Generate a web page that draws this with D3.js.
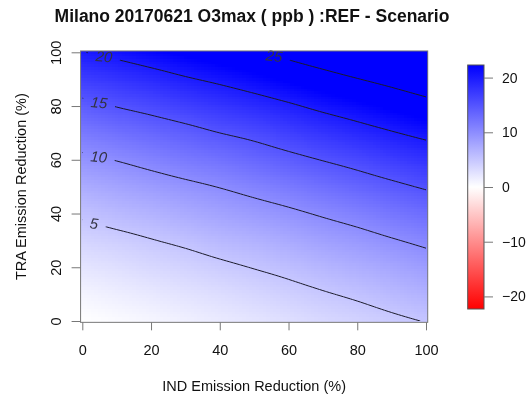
<!DOCTYPE html>
<html>
<head>
<meta charset="utf-8">
<script src="https://cdn.jsdelivr.net/npm/d3@7"></script>
<style>
  html, body { margin: 0; padding: 0; background: #fff; }
  #wrap { position: relative; width: 526px; height: 400px; }
  canvas, svg { position: absolute; left: 0; top: 0; }
  text { font-family: "Liberation Sans", Arial, Helvetica, sans-serif; }
</style>
</head>
<body>
<div id="wrap"></div>
<script>
// ---------------- data ----------------
const indReduction = [0, 10, 20, 30, 40, 50, 60, 70, 80, 90, 100];   // x (%)
const traReduction = [0, 10, 20, 30, 40, 50, 60, 70, 80, 90, 100];   // y (%)
// O3max difference (ppb), one row per TRA reduction level (bottom to top)
const o3Row000 = [0.0, 0.4, 0.8, 1.3, 1.8, 2.3, 2.8, 3.4, 3.9, 4.5, 5.1];
const o3Row010 = [1.0, 1.5, 2.0, 2.5, 3.0, 3.6, 4.2, 4.8, 5.4, 6.1, 6.8];
const o3Row020 = [2.3, 2.8, 3.4, 3.9, 4.5, 5.1, 5.7, 6.4, 7.1, 7.8, 8.6];
const o3Row030 = [3.8, 4.3, 4.9, 5.5, 6.2, 6.8, 7.5, 8.3, 9.0, 9.8, 10.6];
const o3Row040 = [5.4, 6.1, 6.7, 7.4, 8.1, 8.8, 9.5, 10.3, 11.1, 12.0, 12.8];
const o3Row050 = [7.3, 8.0, 8.7, 9.4, 10.1, 10.9, 11.7, 12.6, 13.5, 14.4, 15.3];
const o3Row060 = [9.4, 10.1, 10.9, 11.7, 12.4, 13.3, 14.2, 15.1, 16.0, 17.0, 17.9];
const o3Row070 = [11.7, 12.5, 13.3, 14.1, 15.0, 15.8, 16.8, 17.8, 18.8, 19.8, 20.8];
const o3Row080 = [14.2, 15.1, 15.9, 16.8, 17.7, 18.6, 19.6, 20.7, 21.7, 22.8, 23.9];
const o3Row090 = [17.0, 17.8, 18.7, 19.7, 20.6, 21.6, 22.7, 23.8, 24.9, 26.0, 27.2];
const o3Row100 = [19.9, 20.8, 21.8, 22.8, 23.8, 24.8, 25.9, 27.1, 28.3, 29.5, 30.7];
const o3Rows = [o3Row000, o3Row010, o3Row020, o3Row030, o3Row040, o3Row050,
                o3Row060, o3Row070, o3Row080, o3Row090, o3Row100];

const contourLevels = [5, 10, 15, 20, 25];
const xTicks = [0, 20, 40, 60, 80, 100];
const yTicks = [0, 20, 40, 60, 80, 100];
const colorbarTicks = [-20, -10, 0, 10, 20];
const colorRange = [-22.3, 22.3];

const titleText = "Milano 20170621 O3max ( ppb ) :REF - Scenario";
const xTitle = "IND Emission Reduction (%)";
const yTitle = "TRA Emission Reduction (%)";

// ---------------- layout ----------------
const W = 526, H = 400;
const labelAtX = {5: 3.4, 10: 4.8, 15: 4.9, 20: 6.3, 25: 55.8}; // label placement along x (layout)

const x = d3.scaleLinear().domain([0, 100]).range([82.3, 426]);
const y = d3.scaleLinear().domain([0, 100]).range([321, 52.3]);
const color = d3.scaleLinear()
  .domain([colorRange[0], 0, colorRange[1]])
  .range(["#ff0000", "#ffffff", "#0000ff"])
  .interpolate(d3.interpolateRgb)
  .clamp(true);
const cb = d3.scaleLinear().domain(colorRange).range([309, 65]);

const nx = indReduction.length, ny = traReduction.length;
const dxStep = indReduction[1] - indReduction[0];
const dyStep = traReduction[1] - traReduction[0];

// smooth (Catmull-Rom bicubic) rendering of the sampled surface
function cr(p0, p1, p2, p3, t) {
  return p1 + 0.5 * t * (p2 - p0 + t * (2 * p0 - 5 * p1 + 4 * p2 - p3 + t * (3 * (p1 - p2) + p3 - p0)));
}
function sample(i, j) {
  // linear extension beyond edges
  const ci = Math.max(0, Math.min(nx - 1, i)), cj = Math.max(0, Math.min(ny - 1, j));
  let v = o3Rows[cj][ci];
  if (i < 0) v += (o3Rows[cj][0] - o3Rows[cj][1]) * (-i);
  if (i > nx - 1) v += (o3Rows[cj][nx - 1] - o3Rows[cj][nx - 2]) * (i - nx + 1);
  if (j < 0) v += (o3Rows[0][ci] - o3Rows[1][ci]) * (-j);
  if (j > ny - 1) v += (o3Rows[ny - 1][ci] - o3Rows[ny - 2][ci]) * (j - ny + 1);
  return v;
}
function valueAt(xv, yv) {
  let fx = (xv - indReduction[0]) / dxStep, fy = (yv - traReduction[0]) / dyStep;
  fx = Math.max(0, Math.min(nx - 1, fx)); fy = Math.max(0, Math.min(ny - 1, fy));
  const i0 = Math.min(nx - 2, Math.floor(fx)), j0 = Math.min(ny - 2, Math.floor(fy));
  const tx = fx - i0, ty = fy - j0;
  const col = [];
  for (let dj = -1; dj <= 2; dj++) {
    col.push(cr(sample(i0 - 1, j0 + dj), sample(i0, j0 + dj), sample(i0 + 1, j0 + dj), sample(i0 + 2, j0 + dj), tx));
  }
  return cr(col[0], col[1], col[2], col[3], ty);
}

const wrap = d3.select("#wrap");

// fine render grid: one cell per 1 % step
const fineX = d3.range(0, 101), fineY = d3.range(0, 101);
const fine = [];
fineY.forEach(yv => fineX.forEach(xv => fine.push(valueAt(xv, yv))));
const fnx = fineX.length, fny = fineY.length;

// ---------------- raster (image) ----------------
const canvas = wrap.append("canvas").attr("width", W).attr("height", H).node();
const ctx = canvas.getContext("2d");
{
  const px0 = Math.round(x(-0.5)), px1 = Math.round(x(100.5));
  const py0 = Math.round(y(100.5)), py1 = Math.round(y(-0.5));
  const img = ctx.createImageData(px1 - px0, py1 - py0);
  for (let py = py0; py < py1; py++) {
    const j = Math.max(0, Math.min(fny - 1, Math.round(y.invert(py + 0.5))));
    for (let px = px0; px < px1; px++) {
      const i = Math.max(0, Math.min(fnx - 1, Math.round(x.invert(px + 0.5))));
      const c = d3.rgb(color(fine[j * fnx + i]));
      const k = ((py - py0) * (px1 - px0) + (px - px0)) * 4;
      img.data[k] = c.r; img.data[k + 1] = c.g; img.data[k + 2] = c.b; img.data[k + 3] = 255;
    }
  }
  ctx.putImageData(img, px0, py0);
}

const svg = wrap.append("svg").attr("width", W).attr("height", H);
const defs = svg.append("defs");

// ---------------- contours ----------------
const contours = d3.contours().size([fnx, fny]).thresholds(contourLevels)(fine);
const gx2data = gx => fineX[0] + (gx - 0.5);
const gy2data = gy => fineY[0] + (gy - 0.5);

const isolines = [];
contours.forEach(mp => {
  mp.coordinates.forEach(poly => poly.forEach(ring => {
    let run = [];
    const inside = p => p[0] >= -0.01 && p[0] <= 100.01 && p[1] >= -0.01 && p[1] <= 100.01;
    const pts = ring.map(p => [gx2data(p[0]), gy2data(p[1])]);
    const startIdx = pts.findIndex(p => !inside(p));
    const ordered = startIdx < 0 ? pts : pts.slice(startIdx).concat(pts.slice(0, startIdx));
    ordered.forEach(p => {
      if (inside(p)) run.push(p);
      else { if (run.length > 1) isolines.push({level: mp.value, pts: run}); run = []; }
    });
    if (run.length > 1) isolines.push({level: mp.value, pts: run});
  }));
});

defs.append("clipPath").attr("id", "plotclip").append("rect")
  .attr("x", x(0)).attr("y", y(100)).attr("width", x(100) - x(0)).attr("height", y(0) - y(100));

function yOnLevel(xv, level) {
  let lo = 0, hi = 100;
  for (let k = 0; k < 50; k++) {
    const mid = (lo + hi) / 2;
    if (valueAt(xv, mid) < level) lo = mid; else hi = mid;
  }
  return (lo + hi) / 2;
}

const labels = contourLevels.map(lv => {
  const xv = labelAtX[lv];
  const yv = yOnLevel(xv, lv);
  const xa = xv - 2, xb = xv + 2;
  const ang = Math.atan2(y(yOnLevel(xb, lv)) - y(yOnLevel(xa, lv)), x(xb) - x(xa)) * 180 / Math.PI;
  return {level: lv, px: x(xv), py: y(yv), ang};
});

const mask = defs.append("mask").attr("id", "gapmask").attr("maskUnits", "userSpaceOnUse")
  .attr("x", 0).attr("y", 0).attr("width", W).attr("height", H);
mask.append("rect").attr("x", 0).attr("y", 0).attr("width", W).attr("height", H).attr("fill", "#fff");

const lineG = svg.append("g").attr("clip-path", "url(#plotclip)")
  .append("g").attr("mask", "url(#gapmask)");

const labelG = svg.append("g");
labels.forEach(l => {
  const t = labelG.append("text")
    .attr("transform", `translate(${l.px},${l.py}) rotate(${l.ang * 0.4})`)
    .attr("text-anchor", "middle").attr("dy", "0.36em")
    .attr("font-size", 15).attr("fill", "#333344")
    .style("font-style", "italic")
    .text(l.level);
  const w = t.node().getComputedTextLength() + 16;
  mask.append("rect")
    .attr("transform", `translate(${l.px},${l.py}) rotate(${l.ang})`)
    .attr("x", -w / 2).attr("y", -8).attr("width", w).attr("height", 16).attr("fill", "#000");
});

const line = d3.line().x(p => x(p[0])).y(p => y(p[1]));
lineG.selectAll("path").data(isolines).join("path")
  .attr("d", d => line(d.pts))
  .attr("fill", "none").attr("stroke", "#1a1a2a").attr("stroke-width", 1);

// frame
svg.append("rect")
  .attr("x", x(-0.5)).attr("y", y(100.5))
  .attr("width", x(100.5) - x(-0.5)).attr("height", y(-0.5) - y(100.5))
  .attr("fill", "none").attr("stroke", "#777").attr("stroke-width", 1);

// ---------------- axes ----------------
const xAxis = svg.append("g").attr("transform", `translate(0,${y(-0.5)})`)
  .call(d3.axisBottom(x).tickValues(xTicks).tickSize(8).tickPadding(14).tickFormat(d3.format("d")));
xAxis.select(".domain").remove();
xAxis.selectAll(".tick line").attr("stroke", "#777");
xAxis.selectAll("text").attr("font-size", 14.5).attr("fill", "#111")
  .style("font-family", "'Liberation Sans', Arial, sans-serif");

const yAxis = svg.append("g").attr("transform", `translate(${x(-0.5)},0)`)
  .call(d3.axisLeft(y).tickValues(yTicks).tickSize(9).tickFormat(d3.format("d")));
yAxis.select(".domain").remove();
yAxis.selectAll(".tick line").attr("stroke", "#777");
yAxis.selectAll(".tick text")
  .attr("x", null).attr("dy", null)
  .attr("transform", "translate(-20,0) rotate(-90)")
  .attr("text-anchor", "middle").attr("font-size", 14.5).attr("fill", "#111")
  .style("font-family", "'Liberation Sans', Arial, sans-serif");

// titles
svg.append("text").attr("x", 252).attr("y", 22).attr("text-anchor", "middle")
  .attr("font-size", 17.5).attr("font-weight", "bold").attr("fill", "#111").text(titleText);
svg.append("text").attr("x", (x(0) + x(100)) / 2).attr("y", 391).attr("text-anchor", "middle")
  .attr("font-size", 14.5).attr("fill", "#111").text(xTitle);
svg.append("text").attr("transform", `translate(26,${(y(0) + y(100)) / 2}) rotate(-90)`)
  .attr("text-anchor", "middle").attr("font-size", 14.5).attr("fill", "#111").text(yTitle);

// ---------------- colorbar ----------------
const grad = defs.append("linearGradient").attr("id", "cbgrad")
  .attr("x1", 0).attr("y1", 1).attr("x2", 0).attr("y2", 0);
d3.range(0, 1.0001, 0.05).forEach(t => {
  const v = colorRange[0] + t * (colorRange[1] - colorRange[0]);
  grad.append("stop").attr("offset", t).attr("stop-color", color(v));
});
const cbX = 467.7, cbW = 16.3;
svg.append("rect").attr("x", cbX).attr("y", cb(colorRange[1])).attr("width", cbW)
  .attr("height", cb(colorRange[0]) - cb(colorRange[1]))
  .attr("fill", "url(#cbgrad)").attr("stroke", "#555").attr("stroke-width", 1);
const cbAxis = svg.append("g").attr("transform", `translate(${cbX + cbW},0)`)
  .call(d3.axisRight(cb).tickValues(colorbarTicks).tickSize(9).tickPadding(9).tickFormat(d3.format("d")));
cbAxis.select(".domain").remove();
cbAxis.selectAll(".tick line").attr("stroke", "#777");
cbAxis.selectAll("text").attr("font-size", 14).attr("fill", "#111")
  .style("font-family", "'Liberation Sans', Arial, sans-serif");
</script>
</body>
</html>
